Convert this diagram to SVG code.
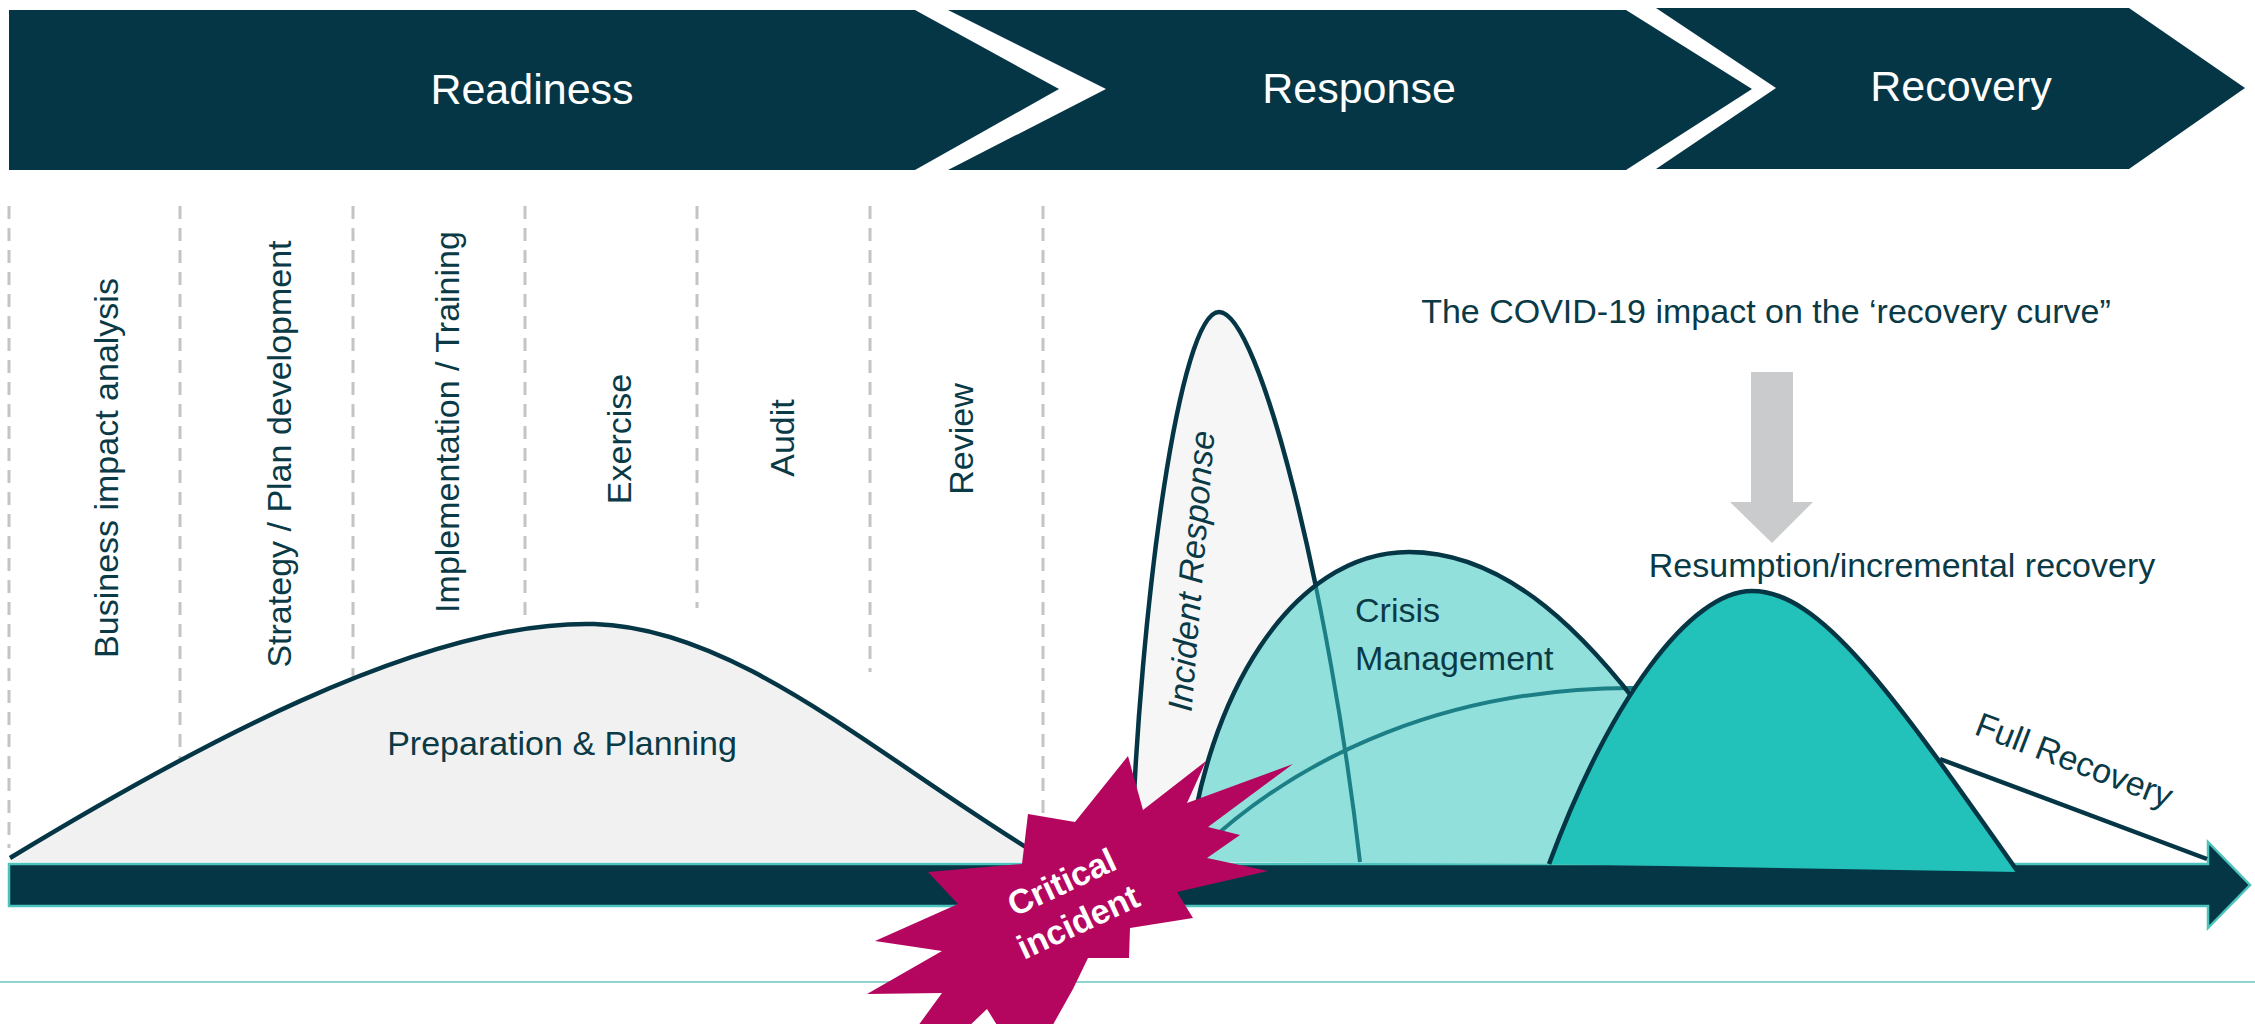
<svg xmlns="http://www.w3.org/2000/svg" width="2255" height="1024" viewBox="0 0 2255 1024">
<style>
.phase{fill:#053646}
.phaset{font-family:"Liberation Sans",Arial,sans-serif;font-size:43px;fill:#ffffff;text-anchor:middle}
.lbl{font-family:"Liberation Sans",Arial,sans-serif;font-size:34px;fill:#0b3a47}
.mid{text-anchor:middle}
.dash{stroke:#c4c4c4;stroke-width:3;stroke-dasharray:13 9;fill:none}
.edge{fill:none;stroke:#053646;stroke-width:4.5;stroke-linejoin:round}
.tealline{fill:none;stroke:#1c7f86;stroke-width:4}
.crit{font-family:"Liberation Sans",Arial,sans-serif;font-size:34px;font-weight:bold;fill:#ffffff;text-anchor:middle}
</style>
<defs>
<clipPath id="crisisClip"><path d="M1188 862 C1205 700 1290 552 1409 552 C1510 552 1590 640 1650 720 L1600 864 Z"/></clipPath>
</defs>
<rect width="2255" height="1024" fill="#ffffff"/>

<g id="phases">
<g id="readiness">
<polygon class="phase" points="9,10 915,10 1059,89 915,170 9,170"/>
<text class="phaset" x="532" y="104">Readiness</text>
</g>
<g id="response">
<polygon class="phase" points="948,10 1626,10 1752,89 1626,170 948,170 1106,89"/>
<text class="phaset" x="1359" y="103">Response</text>
</g>
<g id="recovery">
<polygon class="phase" points="1656,8 2129,8 2245,88 2129,169 1656,169 1776,88"/>
<text class="phaset" x="1961" y="101">Recovery</text>
</g>
</g>

<g id="dividers">
<line class="dash" x1="9" y1="206" x2="9" y2="848"/>
<line class="dash" x1="180" y1="206" x2="180" y2="760"/>
<line class="dash" x1="353" y1="206" x2="353" y2="681"/>
<line class="dash" x1="525" y1="206" x2="525" y2="624"/>
<line class="dash" x1="697" y1="206" x2="697" y2="608"/>
<line class="dash" x1="870" y1="206" x2="870" y2="672"/>
<line class="dash" x1="1043" y1="206" x2="1043" y2="845"/>
</g>

<g id="activities">
<text class="lbl mid" transform="translate(118,468) rotate(-90)">Business impact analysis</text>
<text class="lbl mid" transform="translate(291,454) rotate(-90)">Strategy / Plan development</text>
<text class="lbl mid" transform="translate(459,422) rotate(-90)">Implementation / Training</text>
<text class="lbl mid" transform="translate(631,439) rotate(-90)">Exercise</text>
<text class="lbl mid" transform="translate(794,438) rotate(-90)">Audit</text>
<text class="lbl mid" transform="translate(973,439) rotate(-90)">Review</text>
</g>

<g id="timeline">
<polygon points="9,864 2208,864 2208,842 2250,885 2208,928 2208,906 9,906" fill="#053646" stroke="#4cc3bd" stroke-width="2.5" stroke-linejoin="miter"/>
<line x1="0" y1="982" x2="2255" y2="982" stroke="#8fd3d3" stroke-width="2"/>
</g>

<g id="preparation">
<path d="M10 858 C180 755 420 620 594 624 C740 628 880 760 1050 862 L10 862 Z" fill="#f1f1f1"/>
<path class="edge" d="M10 858 C180 755 420 620 594 624 C740 628 880 760 1050 862"/>
<text class="lbl mid" x="562" y="755">Preparation &amp; Planning</text>
</g>

<g id="incident-response">
<path d="M1131 862 C1140 600 1180 312 1219 312 C1260 312 1330 600 1360 862 Z" fill="#f6f6f6"/>
<path class="edge" d="M1131 862 C1140 600 1180 312 1219 312 C1260 312 1330 600 1360 862"/>
<text class="lbl mid" font-style="italic" transform="translate(1203,572) rotate(-85.3)">Incident Response</text>
</g>

<g id="crisis-management">
<path d="M1188 862 C1205 700 1290 552 1409 552 C1510 552 1590 640 1650 720 L1600 864 Z" fill="#92e0dc"/>
<path class="tealline" clip-path="url(#crisisClip)" d="M1131 862 C1140 600 1180 312 1219 312 C1260 312 1330 600 1360 862"/>
<path class="tealline" d="M1200 850 C1300 755 1450 686 1640 688"/>
<path class="edge" d="M1188 862 C1205 700 1290 552 1409 552 C1510 552 1590 640 1650 720"/>
<text class="lbl" x="1355" y="622">Crisis</text>
<text class="lbl" x="1355" y="670">Management</text>
</g>

<g id="resumption">
<path d="M1549 864 C1610 700 1690 591 1752 591 C1820 591 1890 690 2018 872 Z" fill="#22c1b9"/>
<path class="edge" d="M1549 864 C1610 700 1690 591 1752 591 C1820 591 1890 690 2018 872"/>
<text class="lbl mid" x="1902" y="577">Resumption/incremental recovery</text>
</g>

<g id="full-recovery">
<line class="edge" x1="1940" y1="759" x2="2207" y2="859"/>
<text class="lbl mid" transform="translate(2070,771) rotate(21)">Full Recovery</text>
</g>

<g id="covid-note">
<text class="lbl mid" x="1766" y="323">The COVID-19 impact on the ‘recovery curve”</text>
<polygon points="1751,372 1793,372 1793,502 1813,502 1772,543 1730,502 1751,502" fill="#c9cbcc"/>
</g>

<g id="critical-incident">
<polygon fill="#b5065f" points="1128,756 1143,810 1206,761 1187,803 1293,764 1208,827 1240,835 1207,858 1268,871 1177,892 1193,918 1130,928 1129,958 1088,958 1073,989 1050,1030 1000,1030 987,1009 965,1030 915,1030 942,993 867,994 942,951 875,941 958,904 928,872 1022,864 1028,814 1075,822"/>
<g transform="translate(1070,900) rotate(-25)">
<text class="crit" x="0" y="-8">Critical</text>
<text class="crit" x="-2" y="35">incident</text>
</g>
</g>
</svg>
